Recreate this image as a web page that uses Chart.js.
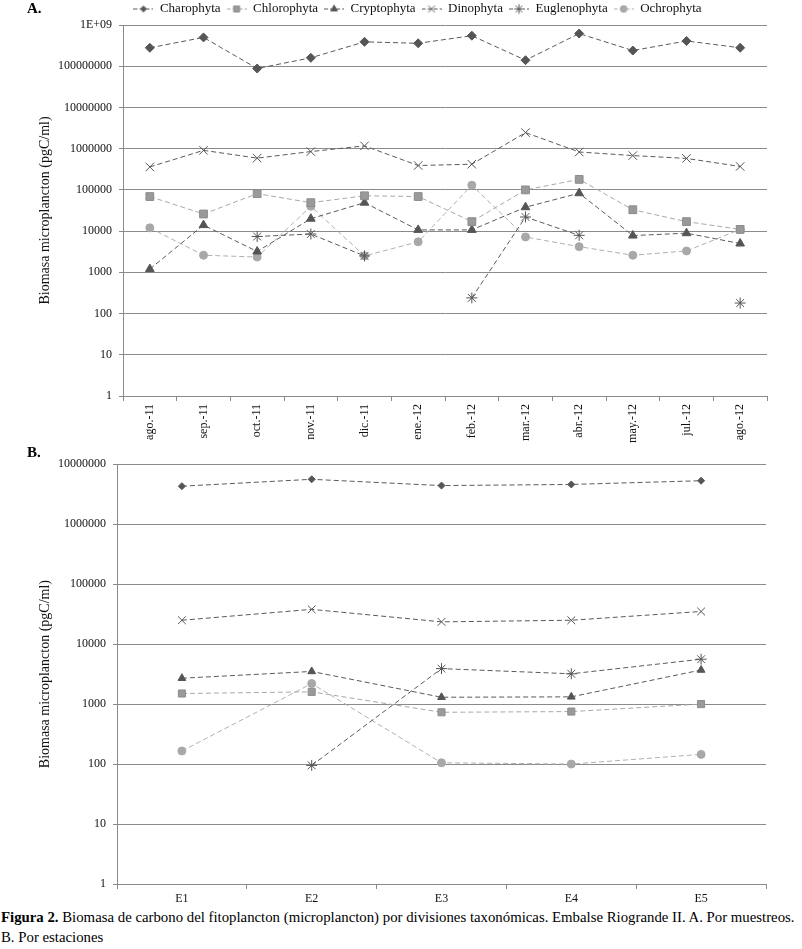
<!DOCTYPE html>
<html><head><meta charset="utf-8">
<script src="https://cdn.jsdelivr.net/npm/chart.js@4/dist/chart.umd.min.js"></script>
<style>
html,body{margin:0;padding:0;background:#fff;}
body{width:802px;height:949px;position:relative;overflow:hidden;font-family:'Liberation Serif',serif;}
#wa{position:absolute;left:0;top:0;width:802px;height:450px;}
#wb{position:absolute;left:0;top:450px;width:802px;height:456px;}
.pl{position:absolute;font-weight:bold;font-size:15px;color:#000;font-family:'Liberation Serif',serif;}
#cap{position:absolute;left:1px;top:907px;font-size:14.8px;line-height:20px;white-space:nowrap;color:#000;font-family:'Liberation Serif',serif;}
</style></head><body>
<div id="wa"><canvas id="ca"></canvas></div>
<div id="wb"><canvas id="cb"></canvas></div>
<div class="pl" style="left:27px;top:0px">A.</div>
<div class="pl" style="left:27px;top:444px">B.</div>
<div id="cap"><b>Figura 2.</b> Biomasa de carbono del fitoplancton (microplancton) por divisiones taxonómicas. Embalse Riogrande II. A. Por muestreos.<br>B. Por estaciones</div>
<script>
// ---- data ----
const seriesNames = ['Charophyta','Chlorophyta','Cryptophyta','Dinophyta','Euglenophyta','Ochrophyta'];
const months = ['ago.-11','sep.-11','oct.-11','nov.-11','dic.-11','ene.-12','feb.-12','mar.-12','abr.-12','may.-12','jul.-12','ago.-12'];
const charoA  = [2.8e8, 5.0e8, 8.8e7, 1.6e8, 3.9e8, 3.6e8, 5.5e8, 1.4e8, 6.2e8, 2.4e8, 4.1e8, 2.8e8];
const chloroA = [6.9e4, 2.6e4, 8.1e4, 4.9e4, 7.2e4, 6.9e4, 1.7e4, 1.0e5, 1.8e5, 3.3e4, 1.7e4, 1.1e4];
const cryptoA = [1.2e3, 1.4e4, 3.2e3, 2.0e4, 4.9e4, 1.07e4, 1.07e4, 3.8e4, 8.3e4, 7.8e3, 8.9e3, 5.0e3];
const dinoA   = [3.6e5, 9.1e5, 5.9e5, 8.5e5, 1.17e6, 3.9e5, 4.2e5, 2.45e6, 8.3e5, 6.8e5, 5.8e5, 3.7e5];
const eugleA  = [null, null, 7.4e3, 8.5e3, 2.5e3, null, 240, 2.2e4, 7.9e3, null, null, 180];
const ochroA  = [1.2e4, 2.6e3, 2.35e3, 4.0e4, 2.5e3, 5.5e3, 1.3e5, 7.2e3, 4.2e3, 2.6e3, 3.3e3, 1.1e4];

const stations = ['E1','E2','E3','E4','E5'];
const charoB  = [4.3e6, 5.6e6, 4.4e6, 4.6e6, 5.3e6];
const chloroB = [1.5e3, 1.6e3, 730, 750, 1.0e3];
const cryptoB = [2.7e3, 3.5e3, 1.3e3, 1.32e3, 3.7e3];
const dinoB   = [2.5e4, 3.8e4, 2.35e4, 2.5e4, 3.5e4];
const eugleB  = [null, 95, 3.9e3, 3.2e3, 5.6e3];
const ochroB  = [165, 2.2e3, 105, 100, 145];

const yTicksA = [1,10,100,1000,10000,100000,1000000,10000000,100000000,1000000000];
const yLabelsA = ['1','10','100','1000','10000','100000','1000000','10000000','100000000','1E+09'];
const yTicksB = [1,10,100,1000,10000,100000,1000000,10000000];
const yLabelsB = ['1','10','100','1000','10000','100000','1000000','10000000'];

// ---- styles ----
const FONT = "'Liberation Serif', 'Times New Roman', serif";
const pStyles = ['rectRot','rect','triangle','crossRot','star','circle'];
const pFill   = ['#555','#9a9a9a','#555','#555','#555','#a8a8a8'];
const pBorder = ['#555','#8c8c8c','#555','#555','#555','#a8a8a8'];
const lColor  = ['#5a5a5a','#a8a8a8','#5a5a5a','#5a5a5a','#5a5a5a','#b0b0b0'];
const radA = [4.5, 5.5, 5, 6, 5.5, 4];
const radB = [3.5, 5, 4.5, 5.5, 5.5, 4];
const GRID = '#8a8a8a';

function icon(i){
  const c = document.createElement('canvas'); c.width = 20; c.height = 12;
  const x = c.getContext('2d');
  x.strokeStyle = lColor[i]; x.lineWidth = 1; x.setLineDash([4,2]);
  x.beginPath(); x.moveTo(0,6.5); x.lineTo(20,6.5); x.stroke(); x.setLineDash([]);
  x.fillStyle = pFill[i]; x.strokeStyle = pBorder[i];
  Chart.helpers.drawPoint(x, {pointStyle: pStyles[i], radius: radB[i]*0.85, borderWidth: 1, rotation: 0}, 10, 6.5);
  return c;
}

function datasets(list, rad){
  return list.map((d,i) => ({
    label: seriesNames[i], data: d,
    borderColor: lColor[i], borderWidth: 1, borderDash: [5,3],
    pointStyle: pStyles[i], pointRadius: rad[i], pointBackgroundColor: pFill[i],
    pointBorderColor: pBorder[i], pointBorderWidth: 1, tension: 0, spanGaps: false, fill: false
  }));
}

function yScale(ticks, labels, width, titlePad){
  return {
    type: 'logarithmic', min: ticks[0], max: ticks[ticks.length-1],
    afterBuildTicks: s => { s.ticks = ticks.map(v => ({value: v})); },
    afterFit: s => { s.width = width; },
    ticks: { color: '#111', font: {family: FONT, size: 12}, padding: 7,
      callback: (v) => { const k = ticks.indexOf(v); return k >= 0 ? labels[k] : ''; } },
    grid: { color: GRID, lineWidth: 1, tickLength: 4, drawTicks: true },
    border: { color: GRID, width: 1 },
    title: { display: true, text: 'Biomasa microplancton (pgC/ml)', color: '#111',
      font: {family: FONT, size: 14}, padding: {top: titlePad, bottom: 0} }
  };
}

function xScale(labels, height, rot){
  return {
    type: 'category', offset: true,
    afterFit: s => { s.height = height; },
    ticks: { color: '#111', font: {family: FONT, size: 12}, autoSkip: false,
      maxRotation: rot, minRotation: rot, padding: 3 },
    grid: { display: true, drawOnChartArea: false, drawTicks: true, tickLength: 5, offset: true, color: GRID },
    border: { color: GRID, width: 1 }
  };
}

const icons = seriesNames.map((_,i) => icon(i));

// shifts the legend box to the right so that it is centred like the original
const legendShift = { id: 'legendShift', afterLayout(chart) { if (chart.legend) { chart.legend.left += 17; chart.legend.right += 17; } } };

new Chart(document.getElementById('ca'), {
  type: 'line',
  data: { labels: months, datasets: datasets([charoA, chloroA, cryptoA, dinoA, eugleA, ochroA], radA) },
  plugins: [legendShift],
  options: {
    responsive: true, maintainAspectRatio: false, animation: false,
    layout: { padding: { top: -4, left: 34, right: 35, bottom: 0 } },
    plugins: {
      tooltip: { enabled: false },
      legend: { display: true, position: 'top',
        labels: { usePointStyle: true, pointStyleWidth: 20, padding: 6, color: '#111',
          font: {family: FONT, size: 13},
          generateLabels: (chart) => chart.data.datasets.map((ds,i) => ({
            text: ds.label, pointStyle: icons[i], fillStyle: pFill[i], strokeStyle: pBorder[i],
            lineWidth: 0, hidden: false, datasetIndex: i, fontColor: '#111' })) } }
    },
    scales: { x: xScale(months, 54, 90), y: yScale(yTicksA, yLabelsA, 89, 3) }
  }
});

new Chart(document.getElementById('cb'), {
  type: 'line',
  data: { labels: stations, datasets: datasets([charoB, chloroB, cryptoB, dinoB, eugleB, ochroB], radB) },
  options: {
    responsive: true, maintainAspectRatio: false, animation: false,
    layout: { padding: { top: 12, left: 0, right: 36, bottom: 0 } },
    plugins: { tooltip: { enabled: false }, legend: { display: false } },
    scales: { x: xScale(stations, 22, 0), y: yScale(yTicksB, yLabelsB, 117, 37) }
  }
});
</script>
</body></html>
